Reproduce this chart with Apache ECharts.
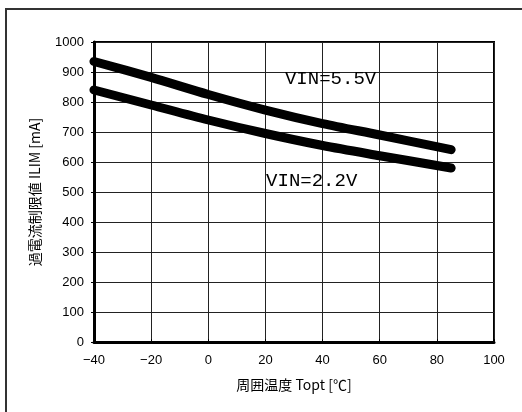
<!DOCTYPE html>
<html><head><meta charset="utf-8">
<script src="https://cdn.jsdelivr.net/npm/echarts@6/dist/echarts.min.js"></script>
<style>html,body{margin:0;padding:0;background:#fff}#c{width:522px;height:412px}</style>
</head><body><div id="c"></div>
<script>
const temps = [-40, -20, 0, 20, 40, 60, 85];
const vin55 = [935, 882, 825, 773, 728, 690, 641];
const vin22 = [840, 790, 740, 695, 655, 621, 580];
const xTicks = [-40, -20, 0, 20, 40, 60, 80, 100];
const yTicks = [0, 100, 200, 300, 400, 500, 600, 700, 800, 900, 1000];
const labels = [{name: 'VIN=5.5V', at: [42.8, 876]}, {name: 'VIN=2.2V', at: [36.2, 536]}];

const chart = echarts.init(document.getElementById('c'));
const labelFont = 'Liberation Sans, Arial, sans-serif';
function mk(vals, lab) {
  return {
    type: 'line', data: temps.map((t, i) => [t, vals[i]]), smooth: 0.3, symbol: 'none',
    lineStyle: {color: '#000', width: 9, cap: 'round', join: 'round'},
    markPoint: {
      symbol: 'circle', symbolSize: 0, silent: true,
      data: [{coord: lab.at, value: lab.name}],
      label: {show: true, position: 'inside', formatter: lab.name, color: '#000',
        fontFamily: 'Liberation Mono, DejaVu Sans Mono, monospace', fontSize: 19}
    }
  };
}
chart.setOption({
  animation: false,
  graphic: [{type: 'rect', shape: {x: 6, y: 9, width: 600, height: 600},
    style: {fill: 'none', stroke: '#333', lineWidth: 2}, z: 100}],
  grid: {left: 94, top: 42, width: 400, height: 300, show: true, borderColor: '#000', borderWidth: 2, backgroundColor: 'transparent'},
  xAxis: {
    type: 'value', min: xTicks[0], max: xTicks[xTicks.length - 1], interval: 20,
    name: '周囲温度 Topt [℃]', nameLocation: 'middle', nameGap: 36,
    nameTextStyle: {color: '#000', fontSize: 14, fontFamily: 'Noto Sans CJK JP, sans-serif'},
    axisLine: {onZero: false, lineStyle: {color: '#000', width: 3}},
    axisTick: {show: true, length: 3, inside: true, lineStyle: {color: '#000'}},
    axisLabel: {color: '#000', fontSize: 13, fontFamily: labelFont, margin: 12,
      formatter: v => (v < 0 ? '\u2212' + Math.abs(v) : String(v))},
    splitLine: {show: true, lineStyle: {color: '#222', width: 1}}
  },
  yAxis: {
    type: 'value', min: yTicks[0], max: yTicks[yTicks.length - 1], interval: 100,
    name: '過電流制限値 ILIM [mA]', nameLocation: 'middle', nameGap: 52, nameRotate: 90,
    nameTextStyle: {color: '#000', fontSize: 14, fontFamily: 'Noto Sans CJK JP, sans-serif'},
    axisLine: {show: true, onZero: false, lineStyle: {color: '#000', width: 3}},
    axisTick: {show: true, length: 3, lineStyle: {color: '#000'}},
    axisLabel: {color: '#000', fontSize: 13, fontFamily: labelFont, margin: 10,
      formatter: v => String(v)},
    splitLine: {show: true, lineStyle: {color: '#222', width: 1}}
  },
  series: [mk(vin55, labels[0]), mk(vin22, labels[1])]
});
</script></body></html>
